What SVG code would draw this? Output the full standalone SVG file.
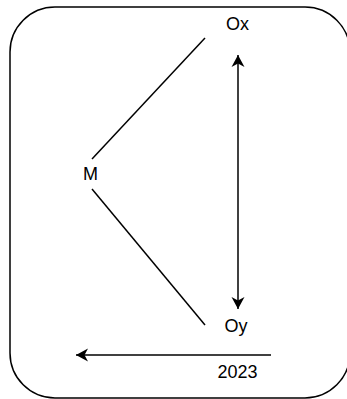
<svg xmlns="http://www.w3.org/2000/svg" width="347" height="399" viewBox="0 0 347 399">
<style>
.lbl{font-family:"Liberation Sans",Arial,sans-serif;font-size:18px;fill:#000;text-anchor:middle}
.ln{stroke:#000;stroke-width:1.5;fill:none}
</style>
<defs>
<marker id="arr" markerUnits="userSpaceOnUse" markerWidth="14" markerHeight="14" viewBox="0 0 14 14" refX="13" refY="7" orient="auto-start-reverse">
<path d="M1,0.5 L13,7 L1,13.5 L4.5,7 Z" fill="#000"/>
</marker>
</defs>
<rect id="frame" x="10" y="7" width="340" height="391" rx="45" ry="45" fill="#fff" stroke="#000" stroke-width="1.5"/>
<g id="node-Ox"><text class="lbl" x="237.5" y="30">Ox</text></g>
<g id="node-M"><text class="lbl" x="90.5" y="180">M</text></g>
<g id="node-Oy"><text class="lbl" x="236" y="332">Oy</text></g>
<g id="node-2023"><text class="lbl" x="237.5" y="378">2023</text></g>
<g id="connectors">
<line class="ln" x1="205" y1="38" x2="92" y2="159"/>
<line class="ln" x1="92" y1="189" x2="205" y2="325"/>
<line class="ln" x1="238" y1="55" x2="238" y2="309" marker-start="url(#arr)" marker-end="url(#arr)"/>
<line class="ln" x1="271" y1="355" x2="76" y2="355" marker-end="url(#arr)"/>
</g>
</svg>
